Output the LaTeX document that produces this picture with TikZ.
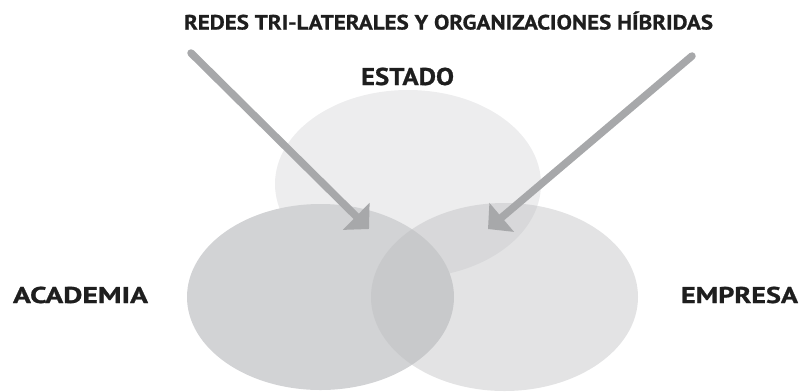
\documentclass[tikz,border=0pt]{standalone}
\usepackage{fontspec}
\setmainfont{PT Sans}
\newfontfamily\lblfont{PT Sans}[BoldFeatures={FakeBold=0.8}]
\usetikzlibrary{arrows.meta}
\definecolor{estadoc}{RGB}{237,237,238}
\definecolor{academiac}{RGB}{210,211,213}
\definecolor{empresac}{RGB}{188,189,191}
\definecolor{arrowc}{RGB}{167,168,170}
\definecolor{textc}{RGB}{30,30,30}
\newcommand\fitlbl[3]{%
  \begingroup
  \setbox0=\hbox{#3}\setbox2=\hbox{H}%
  \pgfmathsetmacro\myfitsx{#1/\wd0}%
  \pgfmathsetmacro\myfitsy{#2/\ht2}%
  \scalebox{\myfitsx}[\myfitsy]{\box0}%
  \endgroup}
\tikzset{
  label text/.style={anchor=base, inner sep=0pt, text=textc, font=\lblfont\bfseries},
  blob/.style={draw=none},
  bigarrow/.style={draw=arrowc, line width=7.5bp, line cap=round,
    -{Triangle[length=18bp, width=37bp]}},
}
\begin{document}
\begin{tikzpicture}[x=1bp, y=-1bp]
\useasboundingbox (0,0) rectangle (799,391);
% circles
\fill[blob, estadoc] (408,184) ellipse [x radius=133, y radius=94];
\fill[blob, academiac] (320.5,297) ellipse [x radius=133.5, y radius=93];
\fill[blob, empresac, fill opacity=0.42] (504.5,297) ellipse [x radius=133.5, y radius=94];
% labels
\node[label text] (title) at (448.5,29.5) {\fitlbl{529bp}{14.5bp}{REDES TRI-LATERALES Y ORGANIZACIONES HÍBRIDAS}};
\node[label text] (estado) at (407.5,85) {\fitlbl{93bp}{17bp}{ESTADO}};
\node[label text] (academia) at (80.5,303) {\fitlbl{135bp}{16bp}{ACADEMIA}};
\node[label text] (empresa) at (739.5,303) {\fitlbl{117bp}{16bp}{EMPRESA}};
% arrows
\coordinate (la) at (191,53);
\coordinate (lb) at (369,229);
\coordinate (ra) at (692,56);
\coordinate (rb) at (488,229);
\draw[bigarrow] (la) -- (lb);
\draw[bigarrow] (ra) -- (rb);
\end{tikzpicture}
\end{document}
